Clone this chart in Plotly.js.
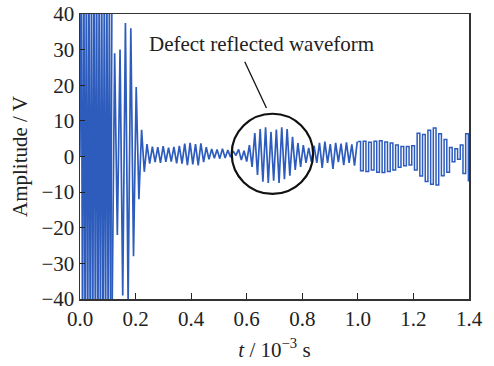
<!DOCTYPE html>
<html>
<head>
<meta charset="utf-8">
<script src="https://cdn.plot.ly/plotly-3.0.1.min.js"></script>
<style>html,body{margin:0;padding:0;background:#fff;}#chart{width:494px;height:366px;}</style>
</head>
<body>
<div id="chart"></div>
<script>
// Initial excitation burst (clipped beyond ±40 V), time in 10^-3 s
const burstT0 = 0;
const burstDt = 0.0046;
const burstAmp = [0, 58, -60, 62, -58, 60, -62, 57, -60, 55, -58, 60, -56, 58, -60, 55, -57, 54, -55, 52, -58, 55, -52, 50, -55, 48];

// Main ring-down and defect echo (linear segments)
const mainT0 = 0.115;
const mainDt = 0.0097;
const mainAmp = [
  -48, 29, -22, 30, -39, 37.5, -41, 36, -28, 19.5, -12, 7.5, -4.3,
  3.5, -2, 2.8, -1.6, 2.6, -1.8, 2.9, -1.5, 2.5, -1.4, 2.7, -1.9, 3.0, -2.0,
  3.6, -2.4, 3.8, -2.2, 3.5, -2.5, 3.7, -1.6,
  2.6, -0.8, 2.1, -0.5, 2.0, -0.6, 2.2, -0.4,
  1.8, -0.2, 1.5, 0.3, 2.0, -1.0, 1.6, -1.4,
  3.2, -2.9, 6.6, -5.2, 7.7, -7.1, 8.2, -7.4, 6.9, -6.8, 7.6, -7.4, 8.2, -6.4, 7.7, -5.4, 5.5, -3.8, 3.8, -2.9, 3.2, -1.8, 2.4, -1.5,
  3.0, -1.8, 3.8, -3.2, 4.2, -1.8, 3.5, -3.5, 3.8, -1.6, 3.6, -2.4, 4.0, -1.8, 3.4, -2.6, 4.2
];

// Late part of the record (stepped appearance)
const lateT0 = 1.0;
const lateDt = 0.0097;
const lateAmp = [
  4.2, -4.0, 4.3, -4.2, 4.0, -3.8, 4.3, -4.4, 4.4, -4.5, 4.1, -4.2, 3.8, -3.8, 3.2, -3.0,
  2.8, -2.6, 2.8, -2.4, 3.0, -3.8, 6.5, -5.5, 6.2, -7.0, 7.4, -7.8, 8.0, -8.0, 6.4, -5.4,
  4.8, -4.4, 2.5, -1.5, 2.2, -0.8, 3.2, -4.8, 6.4, -6.8, 6.2, -6.4
];

const xTickVals = [0, 0.2, 0.4, 0.6, 0.8, 1.0, 1.2, 1.4];
const xTickText = ['0.0', '0.2', '0.4', '0.6', '0.8', '1.0', '1.2', '1.4'];
const yTickVals = [-40, -30, -20, -10, 0, 10, 20, 30, 40];

const blue = '#2d5cbd';
const serif = 'Liberation Serif, Times New Roman, serif';
const fs = 21;

const traces = [
  {type: 'scatter', mode: 'lines', x0: burstT0, dx: burstDt, y: burstAmp,
   line: {color: blue, width: 1.6}, hoverinfo: 'skip', showlegend: false},
  {type: 'scatter', mode: 'lines', x0: mainT0, dx: mainDt, y: mainAmp,
   line: {color: blue, width: 1.7}, hoverinfo: 'skip', showlegend: false},
  {type: 'scatter', mode: 'lines', x0: lateT0, dx: lateDt, y: lateAmp,
   line: {color: blue, width: 1.5, shape: 'hv'}, hoverinfo: 'skip', showlegend: false}
];

const layout = {
  width: 494, height: 366,
  margin: {l: 80, r: 25, t: 14, b: 67},
  paper_bgcolor: '#ffffff', plot_bgcolor: '#ffffff',
  font: {family: serif, size: fs, color: '#222'},
  xaxis: {
    range: [0, 1.4], tickvals: xTickVals, ticktext: xTickText,
    ticks: 'inside', ticklen: 6, tickcolor: '#222', tickwidth: 1.2,
    showline: true, linecolor: '#333', linewidth: 1.5, mirror: true,
    showgrid: false, zeroline: false,
    tickfont: {family: serif, size: fs, color: '#222'},
    title: {text: '<i>t</i> / 10<sup>−3</sup> s', font: {family: serif, size: fs, color: '#222'}, standoff: 12}
  },
  yaxis: {
    range: [-40, 40], tickvals: yTickVals,
    ticks: 'inside', ticklen: 5, tickcolor: '#222', tickwidth: 1.2,
    showline: true, linecolor: '#333', linewidth: 1.5, mirror: true,
    showgrid: false, zeroline: false,
    tickfont: {family: serif, size: fs, color: '#222'},
    title: {text: 'Amplitude / V', font: {family: serif, size: fs, color: '#222'}, standoff: 8}
  },
  shapes: [
    {type: 'circle', xref: 'x', yref: 'y', x0: 0.546, x1: 0.839, y0: -10.5, y1: 12.0,
     line: {color: '#111', width: 2.2}},
    {type: 'line', xref: 'x', yref: 'y', x0: 0.593, y0: 26.6, x1: 0.671, y1: 13.6,
     line: {color: '#111', width: 1.3}}
  ],
  annotations: [
    {text: 'Defect reflected waveform', xref: 'x', yref: 'y', x: 0.652, y: 31.6,
     xanchor: 'center', yanchor: 'middle', showarrow: false,
     font: {family: serif, size: fs, color: '#222'}}
  ]
};

Plotly.newPlot('chart', traces, layout, {displayModeBar: false, staticPlot: true});
</script>
</body>
</html>
